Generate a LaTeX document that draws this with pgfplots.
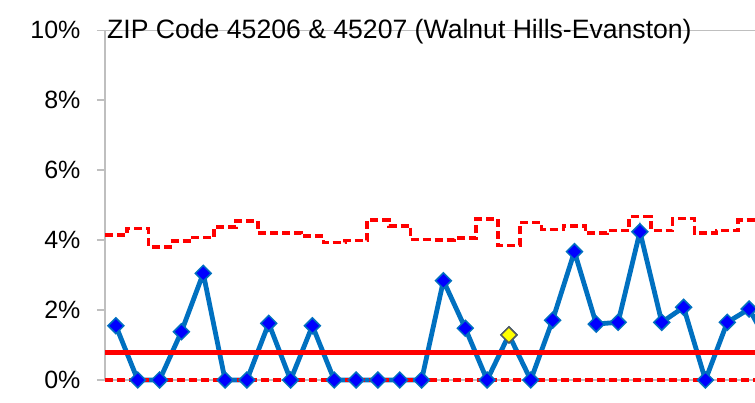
\documentclass[border=0pt]{standalone}
\usepackage{fontspec}
\setmainfont{Liberation Sans}
\usepackage{pgfplots}
\usepackage{pgfplotstable}
\pgfplotsset{compat=1.18}

\definecolor{ptblue}{RGB}{0,112,192}
\definecolor{ptfill}{RGB}{0,0,255}
\definecolor{axgray}{RGB}{191,191,191}
\definecolor{ptyellow}{RGB}{255,255,0}
\definecolor{ptedge}{RGB}{89,89,89}

% observed rate (%) per period
\pgfplotstableread{
x y
0 1.55
1 0
2 0
3 1.38
4 3.05
5 0
6 0
7 1.62
8 0
9 1.55
10 0
11 0
12 0
13 0
14 0
15 2.84
16 1.48
17 0
18 1.29
19 0
20 1.71
21 3.67
22 1.60
23 1.65
24 4.24
25 1.65
26 2.08
27 0
28 1.65
29 2.03
30 0.90
}\ratedata

% upper control limit, one step per period
\pgfplotstableread{
x ucl
-0.5 4.14
0.5 4.33
1.5 3.81
2.5 3.97
3.5 4.07
4.5 4.38
5.5 4.55
6.5 4.20
7.5 4.20
8.5 4.12
9.5 3.93
10.5 3.99
11.5 4.57
12.5 4.41
13.5 4.02
14.5 4.01
15.5 4.06
16.5 4.60
17.5 3.84
18.5 4.50
19.5 4.31
20.5 4.41
21.5 4.21
22.5 4.28
23.5 4.67
24.5 4.28
25.5 4.62
26.5 4.21
27.5 4.28
28.5 4.57
30.5 4.57
}\ucldata

\begin{document}
\begin{tikzpicture}
\begin{axis}[
    scale only axis,
    width=650pt,
    height=349.7pt,
    xmin=-0.5, xmax=29.27,
    ymin=0, ymax=10,
    axis x line*=box,
    axis y line*=left,
    axis line style={axgray, line width=1.5pt},
    xtick=\empty,
    ytick={0,2,...,10},
    tick align=outside,
    major tick length=8pt,
    tick style={axgray, line width=1.5pt},
    yticklabel={\pgfmathprintnumber{\tick}\%},
    /pgf/number format/assume math mode=true,
    yticklabel style={font=\fontsize{25}{30}\selectfont, xshift=-13pt},
    clip=false,
]
\addplot[ptblue, line width=4.8pt, mark=square*,
    mark size=5.6pt,
    mark options={solid, fill=ptfill, draw=ptblue, line width=1.5pt, rotate=45}]
    table[x=x, y=y] {\ratedata};
\addplot[only marks, mark=square*, mark size=5.6pt,
    mark options={fill=ptyellow, draw=ptedge, line width=1.5pt, rotate=45}]
    coordinates {(18,1.29)};
\addplot[red, line width=3.5pt, dash pattern=on 8pt off 4pt, const plot]
    table[x=x, y=ucl] {\ucldata};
\addplot[red, line width=3.5pt, dash pattern=on 8pt off 4pt]
    coordinates {(-0.5,0) (30.5,0)};
\addplot[red, line width=5.5pt] coordinates {(-0.5,0.78) (30.5,0.78)};
\coordinate (bl) at (rel axis cs:0,0);
\coordinate (tr) at (rel axis cs:1,1);
\end{axis}
\node[anchor=base west, inner sep=0pt, font=\fontsize{26.6}{30}\selectfont]
    at ([xshift=2pt, yshift=-8pt]bl|-tr)
    {ZIP Code 45206 \& 45207 (Walnut Hills-Evanston)};
\pgfresetboundingbox
\path ([xshift=-105pt, yshift=-23pt]bl) rectangle ([yshift=30.3pt]tr);
\end{tikzpicture}
\end{document}
